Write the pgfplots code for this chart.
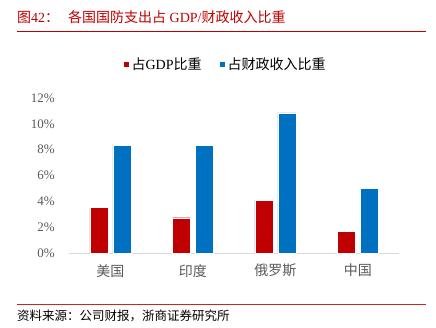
\documentclass[border=0pt]{standalone}
\usepackage{pgfplots}
\pgfplotsset{compat=1.18}
\usepackage{fontspec}
\setmainfont{Liberation Serif}
\newfontfamily\cjk{Noto Sans CJK SC}
\definecolor{zsred}{HTML}{C00000}
\definecolor{zsblue}{HTML}{0070C0}
\definecolor{tickgray}{HTML}{595959}
\definecolor{axgray}{HTML}{D9D9D9}
\begin{document}
\begin{tikzpicture}[x=1bp,y=1bp]
\path[use as bounding box] (0,0) rectangle (436,327);
% title
\node[anchor=west,inner sep=0pt,text=zsred,font=\fontsize{14bp}{16bp}\selectfont] at (17,310) {{\cjk 图}42{\cjk ：}\hspace{9bp}{\cjk 各国国防支出占} GDP/{\cjk 财政收入比重}};
\draw[zsred,line width=0.9bp] (17,296) -- (426,296);
\draw[zsred!85,line width=0.9bp] (17,23) -- (426,23);
\node[anchor=west,inner sep=0pt,font=\fontsize{12.5bp}{15bp}\selectfont] at (17,11) {\cjk 资料来源：公司财报，浙商证券研究所};
\begin{axis}[
  at={(69bp,74bp)}, anchor=south west,
  scale only axis, width=330bp, height=155bp,
  ymin=0, ymax=12, xmin=-0.5, xmax=3.5,
  ybar=5bp, bar width=18bp,
  xtick={0,1,2,3},
  xticklabels={{\cjk 美国},{\cjk 印度},{\cjk 俄罗斯},{\cjk 中国}},
  ytick={0,2,...,12},
  yticklabel={\pgfmathprintnumber{\tick}\%},
  /pgf/number format/assume math mode=true,
  axis x line=bottom, axis y line=left,
  x axis line style={-,axgray,line width=1bp},
  y axis line style={draw=none},
  major tick length=0pt,
  tick label style={text=tickgray,inner sep=0pt},
  yticklabel style={font=\fontsize{13bp}{15bp}\selectfont, xshift=-14bp},
  xticklabel style={font=\fontsize{14bp}{16bp}\selectfont, yshift=-11bp},
  legend style={at={(rel axis cs:0.473,1.219)}, anchor=center, draw=none, fill=none,
    legend columns=2, font=\fontsize{14bp}{16bp}\selectfont,
    /tikz/every even column/.append style={column sep=15bp}},
  legend image code/.code={\fill[#1] (0bp,-3.3bp) rectangle (6.6bp,3.3bp);},
  clip=false,
]
\addplot[fill=zsred, draw=white, line width=0.4bp] coordinates {(0,3.53) (1,2.73) (2,4.1) (3,1.68)};
\addplot[fill=zsblue, draw=white, line width=0.4bp] coordinates {(0,8.35) (1,8.35) (2,10.85) (3,5.0)};
\legend{{\cjk 占}GDP{\cjk 比重},{\cjk 占财政收入比重}}
\end{axis}
\end{tikzpicture}
\end{document}
